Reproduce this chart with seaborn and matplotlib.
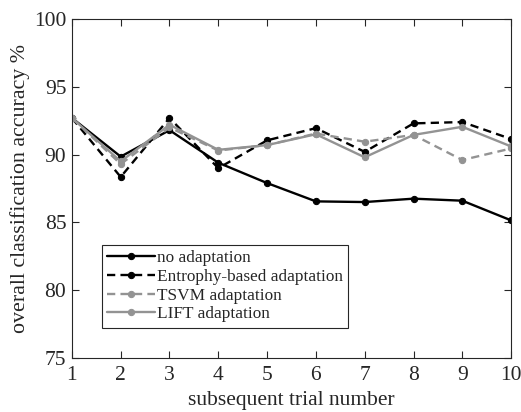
import matplotlib
matplotlib.use("Agg")
import matplotlib.pyplot as plt
import seaborn as sns
import pandas as pd

trials = [1, 2, 3, 4, 5, 6, 7, 8, 9, 10]
no_adapt = [92.7, 89.85, 91.8, 89.4, 87.9, 86.55, 86.5, 86.75, 86.6, 85.15]
entropy = [92.7, 88.35, 92.7, 89.0, 91.05, 91.95, 90.2, 92.3, 92.4, 91.15]
tsvm = [92.7, 89.3, 92.0, 90.3, 90.7, 91.55, 90.95, 91.45, 89.6, 90.45]
lift = [92.7, 89.5, 92.2, 90.35, 90.7, 91.5, 89.8, 91.45, 92.05, 90.6]
labels = ["no adaptation", "Entrophy-based adaptation", "TSVM adaptation", "LIFT adaptation"]

sns.set_style("white")
plt.rcParams['font.family'] = ['Liberation Serif', 'DejaVu Serif']

fig = plt.figure(figsize=(5.21, 4.12), dpi=100)
ax = fig.add_axes([0.138, 0.131, 0.843, 0.823])

series = [no_adapt, entropy, tsvm, lift]
colors = ["black", "black", "#939393", "#939393"]
styles = ["-", (0, (3.5, 2.2)), (0, (3.5, 2.2)), "-"]
for vals, lab, c, ls in zip(series, labels, colors, styles):
    df = pd.DataFrame({"trial": trials, "acc": vals})
    sns.lineplot(data=df, x="trial", y="acc", ax=ax, color=c, linestyle=ls,
                 linewidth=1.7, marker="o", markersize=4.5, markeredgecolor=c,
                 markerfacecolor=c, label=lab)

ax.set_xlim(1, 10)
ax.set_ylim(75, 100)
ax.set_xticks(trials)
ax.set_yticks([75, 80, 85, 90, 95, 100])
ax.set_xlabel("subsequent trial number", fontsize=15.5, labelpad=4)
ax.set_ylabel("overall classification accuracy %", fontsize=15.8, labelpad=3)
ax.tick_params(axis="both", which="both", direction="in", length=5, width=0.8,
               labelsize=15.5, top=True, right=True, bottom=True, left=True,
               colors="#262626", labelcolor="#262626", pad=4)
ax.tick_params(axis="x", pad=6)
for sp in ax.spines.values():
    sp.set_color("#262626")
    sp.set_linewidth(0.8)

leg = ax.legend(loc="lower left", bbox_to_anchor=(0.068, 0.09), fontsize=12.4,
                frameon=True, fancybox=False, framealpha=1, edgecolor="#262626",
                handlelength=2.8, handletextpad=0.1, borderpad=0.3,
                labelspacing=0.15, borderaxespad=0)
leg.get_frame().set_linewidth(0.8)

fig.savefig("out.png", dpi=100)
